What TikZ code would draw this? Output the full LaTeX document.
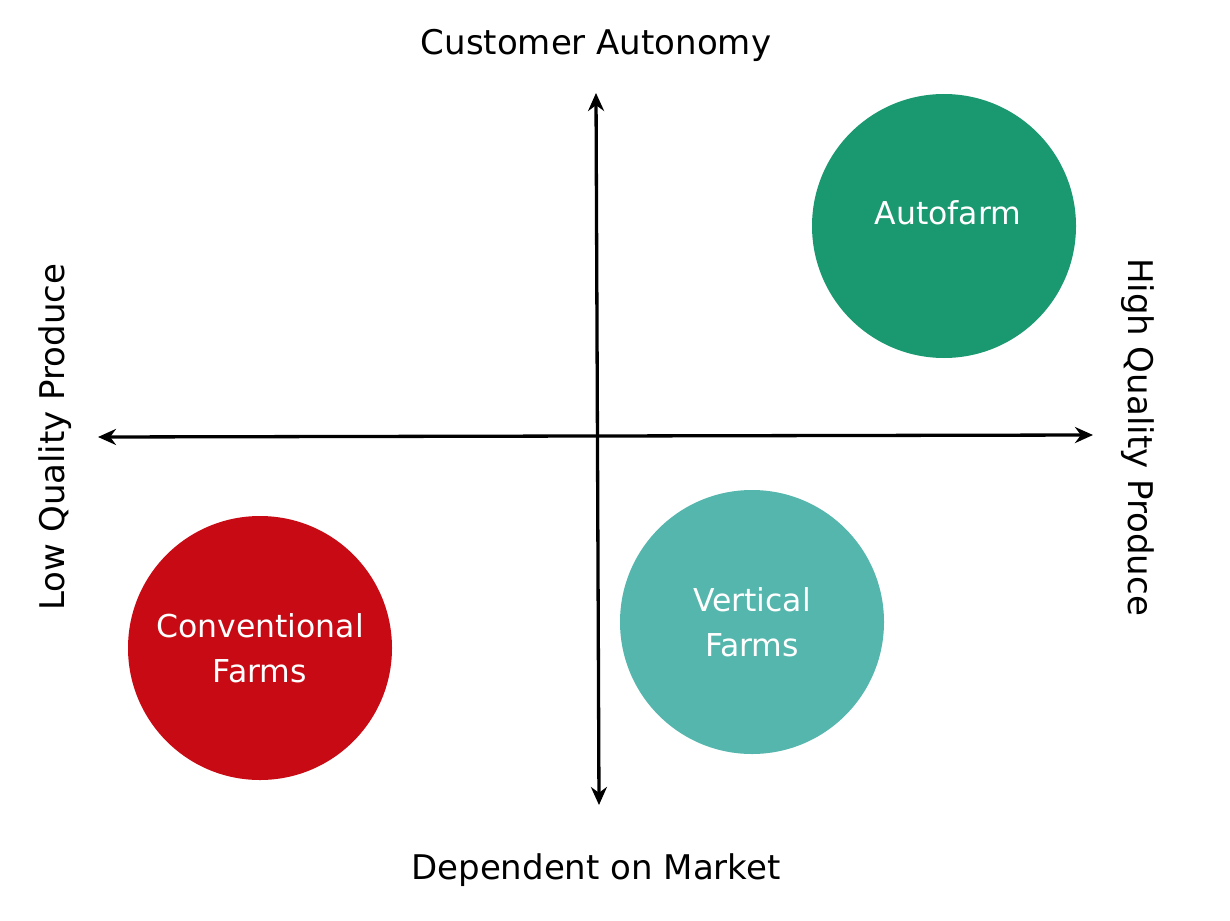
\documentclass[tikz,border=0pt]{standalone}
\usepackage{fontspec}
\setmainfont{DejaVu Sans}
\usetikzlibrary{arrows.meta}
\definecolor{autogreen}{HTML}{1A9870}
\definecolor{vertteal}{HTML}{55B6AD}
\definecolor{convred}{HTML}{C80A14}
\tikzset{
  axis/.style={line width=3.3pt,{Stealth[length=18pt,width=16pt]}-{Stealth[length=18pt,width=16pt]}},
  bubble/.style={circle,minimum size=264pt,inner sep=0pt,text=white,align=center,font=\fontsize{31.5}{45}\selectfont},
  lbl/.style={font=\fontsize{34}{40}\selectfont,text=black}
}
\begin{document}
\begin{tikzpicture}[x=1pt,y=-1pt]
\useasboundingbox (0,0) rectangle (1230,920);
\coordinate (vt) at (596,93);
\coordinate (vb) at (599,805);
\coordinate (hl) at (98,437);
\coordinate (hr) at (1093,435);
\node[bubble,fill=autogreen] (auto) at (944,226) {};
\node[text=white,font=\fontsize{31.5}{45}\selectfont] (autot) at (948,213) {Autofarm};
\node[bubble,fill=vertteal] (vert) at (752,622) {Vertical\\Farms};
\node[bubble,fill=convred] (conv) at (260,648) {Conventional\\Farms};
\draw[axis] (vb) -- (vt);
\draw[axis] (hl) -- (hr);
\node[lbl] (top) at (596,45) {Customer Autonomy};
\node[lbl] (bot) at (596,870) {Dependent on Market};
\node[lbl,rotate=90] (left) at (55,437) {Low Quality Produce};
\node[lbl,rotate=-90] (right) at (1138,437) {High Quality Produce};
\end{tikzpicture}
\end{document}
